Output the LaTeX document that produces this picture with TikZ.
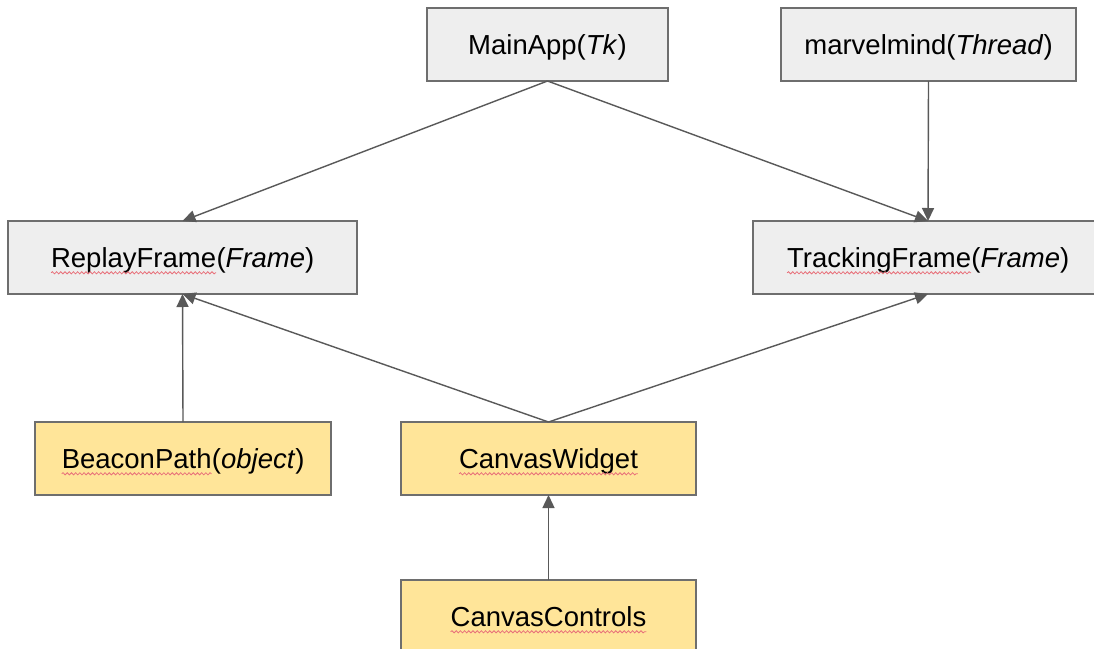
\documentclass[tikz,border=0pt]{standalone}
\usepackage{fontspec}
\setmainfont{Liberation Sans}
\usetikzlibrary{arrows.meta,decorations.pathmorphing}

\definecolor{boxgray}{HTML}{EEEEEE}
\definecolor{boxyellow}{HTML}{FFE599}
\definecolor{edgegray}{HTML}{6E6E6E}
\definecolor{linkgray}{HTML}{595959}
\definecolor{spellred}{HTML}{E8707A}

% red wavy underline under a word
\newcommand\squig[1]{\tikz[baseline=(w.base)]{%
  \node[inner sep=0pt, outer sep=0pt, minimum width=0pt, minimum height=0pt,
        draw=none, fill=none] (w) {#1};
  \draw[spellred, line width=0.8pt,
        decorate, decoration={snake, amplitude=1.1pt, segment length=4.2pt}]
    ([yshift=-5pt]w.base west) -- ([yshift=-5pt]w.base east);}}

\tikzset{
  classbox/.style={draw=edgegray, line width=1.3pt, rectangle,
    minimum height=73pt, inner sep=0pt, outer sep=0pt,
    text height=26.6pt, text depth=6pt,
    font=\fontsize{27.5}{32}\selectfont},
  graybox/.style={classbox, fill=boxgray},
  yellowbox/.style={classbox, fill=boxyellow},
  link/.style={draw=linkgray, line width=1.4pt,
    -{Triangle[length=13pt,width=12pt]}}
}

\begin{document}
\begin{tikzpicture}[x=1pt,y=-1pt]
\clip (0,0) rectangle (1094,648);
\fill[white] (0,0) rectangle (1094,648);

% classes
\node[graybox, minimum width=241pt] (main) at (547.5,44.5) {MainApp(\textit{Tk})};
\node[graybox, minimum width=295pt] (marvel) at (928.5,44.5) {marvelmind(\textit{Thread})};
\node[graybox, minimum width=349pt] (replay) at (182.5,257.5) {\squig{ReplayFrame}(\textit{Frame})};
\node[graybox, minimum width=350pt] (tracking) at (928,257.5) {\squig{TrackingFrame}(\textit{Frame})};
\node[yellowbox, minimum width=296pt] (beacon) at (183,458.5) {\squig{BeaconPath}(\textit{object})};
\node[yellowbox, minimum width=295pt] (widget) at (548.5,458.5) {\squig{CanvasWidget}};
\node[yellowbox, minimum width=295pt] (controls) at (548.5,616.5) {\squig{CanvasControls}};

% relations
\draw[link] (main.south) -- (replay.north);
\draw[link] (main.south) -- (tracking.north);
\draw[link] (marvel.south) -- (tracking.north);
\draw[link] (beacon.north) -- (replay.south);
\draw[link] (widget.north) -- (replay.south);
\draw[link] (widget.north) -- (tracking.south);
\draw[link] (controls.north) -- (widget.south);
\end{tikzpicture}
\end{document}
